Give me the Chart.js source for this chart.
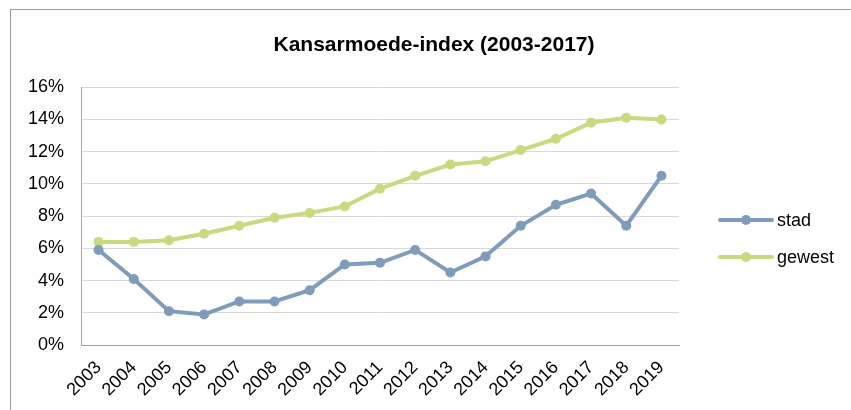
<!DOCTYPE html>
<html>
<head>
<meta charset="utf-8">
<script src="https://cdn.jsdelivr.net/npm/chart.js@4/dist/chart.umd.min.js"></script>
<style>
  body { margin: 0; background: #fff; }
  #wrap { position: relative; width: 851px; height: 410px; }
  #frame { position: absolute; left: 10px; top: 9px; right: 0; bottom: 0;
           border-left: 1px solid #9a9a9a; border-top: 1px solid #9a9a9a; }
  canvas { position: absolute; left: 0; top: 0; }
</style>
</head>
<body>
<div id="wrap">
  <div id="frame"></div>
  <canvas id="chart" width="851" height="410"></canvas>
</div>
<script>
const years = ['2003', '2004', '2005', '2006', '2007', '2008', '2009', '2010', '2011',
  '2012', '2013', '2014', '2015', '2016', '2017', '2018', '2019'];
const stad = [5.9, 4.1, 2.1, 1.9, 2.7, 2.7, 3.4, 5.0, 5.1, 5.9, 4.5, 5.5, 7.4, 8.7, 9.4, 7.4, 10.5];
const gewest = [6.4, 6.4, 6.5, 6.9, 7.4, 7.9, 8.2, 8.6, 9.7, 10.5, 11.2, 11.4, 12.1, 12.8, 13.8, 14.1, 14.0];
const titleText = 'Kansarmoede-index (2003-2017)';

const FONT = 'Liberation Sans, Arial, sans-serif';

// legend on the right: a line with a dot, like the original
const sideLegend = {
  id: 'sideLegend',
  afterDraw(chart) {
    const ctx = chart.ctx;
    const rows = [220, 257];
    chart.data.datasets.forEach((ds, i) => {
      const y = rows[i];
      ctx.save();
      ctx.strokeStyle = ds.borderColor;
      ctx.lineWidth = ds.borderWidth;
      ctx.lineCap = 'round';
      ctx.beginPath();
      ctx.moveTo(720, y);
      ctx.lineTo(772, y);
      ctx.stroke();
      ctx.fillStyle = ds.pointBackgroundColor;
      ctx.beginPath();
      ctx.arc(746, y, ds.pointRadius, 0, Math.PI * 2);
      ctx.fill();
      ctx.fillStyle = '#000';
      ctx.font = '18px ' + FONT;
      ctx.textBaseline = 'middle';
      ctx.fillText(ds.label, 777, y + 1);
      ctx.restore();
    });
  }
};

new Chart(document.getElementById('chart'), {
  type: 'line',
  data: {
    labels: years,
    datasets: [
      {
        label: 'stad',
        data: stad,
        borderColor: '#7f9cba',
        pointBackgroundColor: '#7f9cba',
        pointBorderWidth: 0,
        borderWidth: 4,
        pointRadius: 5,
        tension: 0
      },
      {
        label: 'gewest',
        data: gewest,
        borderColor: '#c9d97f',
        pointBackgroundColor: '#c9d97f',
        pointBorderWidth: 0,
        borderWidth: 4,
        pointRadius: 5,
        tension: 0
      }
    ]
  },
  options: {
    responsive: false,
    animation: false,
    layout: { padding: { left: 17, right: 0, top: 0, bottom: 0 } },
    plugins: {
      legend: { display: false },
      tooltip: { enabled: false },
      title: {
        display: true,
        text: titleText,
        color: '#000',
        font: { family: FONT, size: 21, weight: 'bold' },
        padding: { top: 33, bottom: 29 }
      }
    },
    scales: {
      x: {
        offset: true,
        grid: { display: false },
        border: { display: true, color: '#a0a0a0', width: 1 },
        ticks: {
          color: '#000',
          font: { family: FONT, size: 18 },
          minRotation: 45,
          maxRotation: 45,
          autoSkip: false,
          padding: 4
        },
        afterFit(scale) { scale.height = 65; }
      },
      y: {
        min: 0,
        max: 16,
        grid: { color: '#d9d9d9', drawTicks: false },
        border: { display: true, color: '#a6a6a6', width: 1 },
        ticks: {
          stepSize: 2,
          color: '#000',
          padding: 17,
          font: { family: FONT, size: 18 },
          callback: v => v + '%'
        },
        afterFit(scale) { scale.width = 64; }
      },
      yRight: {
        position: 'right',
        display: true,
        grid: { display: false },
        border: { display: false },
        ticks: { display: false },
        afterFit(scale) { scale.width = 172; }
      }
    }
  },
  plugins: [sideLegend]
});
</script>
</body>
</html>
